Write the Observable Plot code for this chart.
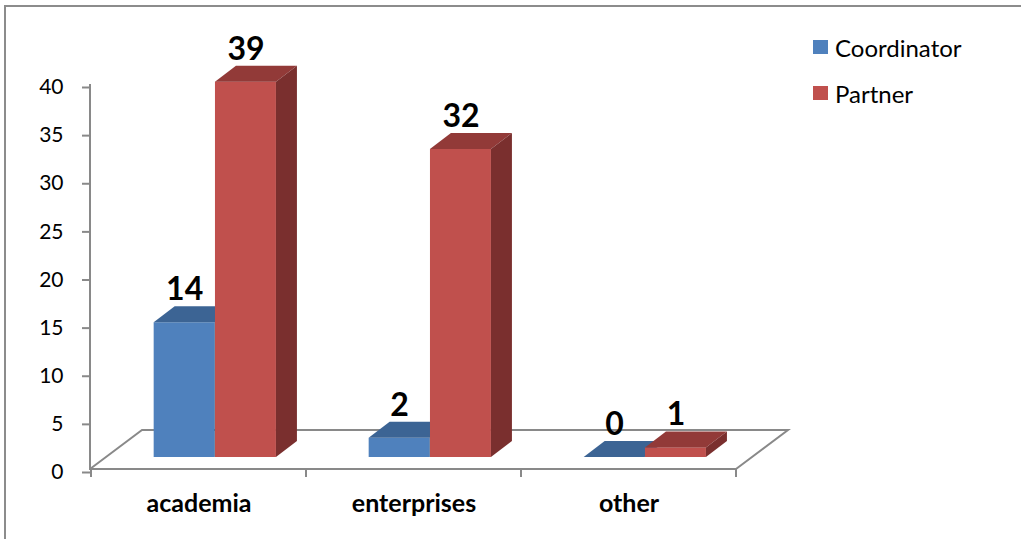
<!DOCTYPE html>
<html><head><meta charset="utf-8">
<script src="https://cdn.jsdelivr.net/npm/d3@7"></script>
<script src="https://cdn.jsdelivr.net/npm/@observablehq/plot@0.6"></script>
<style>
body{margin:0;background:#fff;}
#wrap{position:relative;width:1021px;height:539px;font-family:Lato,sans-serif;overflow:hidden;}
.bt{position:absolute;left:4px;top:5px;width:1017px;height:2px;background:#8c8c8c}
.bl{position:absolute;left:4px;top:5px;width:2px;height:534px;background:#8c8c8c}
#legend{position:absolute;left:813px;top:0;font-size:24px;color:#000}
.item{position:absolute;left:0;display:flex;align-items:center;height:24px;white-space:nowrap}
.sw{width:15px;height:14px;margin-right:7px;flex:none}
#chart{position:absolute;left:0;top:0}
</style></head><body><div id="wrap"><div id="chart"></div><div class="bt"></div><div class="bl"></div><div id="legend"></div></div>
<script>
// ---- data ----
const categories = ["academia", "enterprises", "other"];
const seriesNames = ["Coordinator", "Partner"];
const coordinator = [14, 2, 0];
const partner = [39, 32, 1];
const yTicks = [0, 5, 10, 15, 20, 25, 30, 35, 40];

// ---- styles ----
const colors = {
  Coordinator: {front: "#4F81BD", top: "#3C6494", side: "#2E4D74"},
  Partner: {front: "#C0504D", top: "#923A38", side: "#7A2F2E"}
};
const axisColor = "#898989";
const barWidth = 61.3;
const shift = [16.3, -12];     // bar placement inside the floor depth
const barDepth = [21, -16];    // bar depth projection
const floorDepth = [52, -39];  // floor depth projection

const rows = seriesNames.map((s, si) =>
  categories.map((c, i) => ({category: c, series: s, value: (si === 0 ? coordinator : partner)[i]})));

function box(c) {
  return function(index, scales, values, dimensions, context, next) {
    const g = next(index, scales, values, dimensions, context);
    d3.select(g).selectAll("rect").each(function() {
      const r = d3.select(this);
      const x = +r.attr("x"), y = +r.attr("y"), w = +r.attr("width"), h = +r.attr("height");
      const [dx, dy] = barDepth;
      const p = d3.select(this.parentNode);
      p.append("path").attr("fill", c.top)
        .attr("d", `M${x},${y}L${x + w},${y}L${x + w + dx},${y + dy}L${x + dx},${y + dy}Z`);
      p.append("path").attr("fill", c.side)
        .attr("d", `M${x + w},${y}L${x + w},${y + h}L${x + w + dx},${y + h + dy}L${x + w + dx},${y + dy}Z`);
    });
    return g;
  };
}

function floor(index, scales, values, dimensions) {
  const x0 = dimensions.marginLeft, x1 = dimensions.width - dimensions.marginRight;
  const y0 = scales.y(0), yTop = scales.y(d3.max(yTicks));
  const [dx, dy] = floorDepth;
  const g = d3.create("svg:g").attr("fill", "none").attr("stroke", axisColor).attr("stroke-width", 2);
  g.append("path").attr("d", `M${x0},${y0}L${x0 + dx},${y0 + dy}L${x1 + dx},${y0 + dy}L${x1},${y0}`);
  g.append("path").attr("d", `M${x0},${yTop}L${x0},${y0}L${x1},${y0}`);
  const bounds = categories.map(c => scales.x(c)).concat([x1]);
  for (const b of bounds) g.append("line").attr("x1", b).attr("x2", b).attr("y1", y0).attr("y2", y0 + 8);
  return g.node();
}

const W = 1021, H = 539;
const half = (W - 90 - 285) / categories.length / 2;

const plot = Plot.plot({
  width: W, height: H,
  marginLeft: 90, marginRight: 285, marginTop: 84, marginBottom: 70,
  style: {fontFamily: "Lato, sans-serif", background: "transparent", overflow: "visible"},
  x: {domain: categories, padding: 0, axis: null},
  y: {domain: [0, 40], axis: null},
  marks: [
    Plot.ruleY([0], {render: floor}),
    ...seriesNames.map((name, si) => Plot.barY(rows[si], {
      x: "category", y: "value", fill: colors[name].front,
      insetLeft: si === 0 ? half - barWidth : half,
      insetRight: si === 0 ? half : half - barWidth,
      dx: shift[0], dy: shift[1],
      render: box(colors[name])
    })),
    ...seriesNames.map((name, si) => Plot.text(rows[si], {
      x: "category", y: "value", text: d => String(d.value),
      dx: shift[0] + (si === 0 ? -barWidth / 2 : barWidth / 2),
      dy: shift[1] - 22.5,
      lineAnchor: "bottom", fontSize: 32, fontWeight: "bold", fill: "#000"
    })),
    Plot.axisY({ticks: yTicks, label: null, tickSize: 8, tickPadding: 19, fontSize: 21, stroke: axisColor, strokeWidth: 2, fill: "#000", dy: 3, tickFormat: d => String(d)}),
    Plot.axisX({label: null, tickSize: 0, tickPadding: 25, fontSize: 25, fontWeight: "bold", fill: "#000"})
  ]
});
document.getElementById("chart").appendChild(plot);

const legend = document.getElementById("legend");
seriesNames.forEach((name, i) => {
  const it = document.createElement("div");
  it.className = "item";
  it.style.top = (35 + i * 46) + "px";
  it.innerHTML = `<span class="sw" style="background:${colors[name].front}"></span><span>${name}</span>`;
  legend.appendChild(it);
});
</script>
</body></html>
